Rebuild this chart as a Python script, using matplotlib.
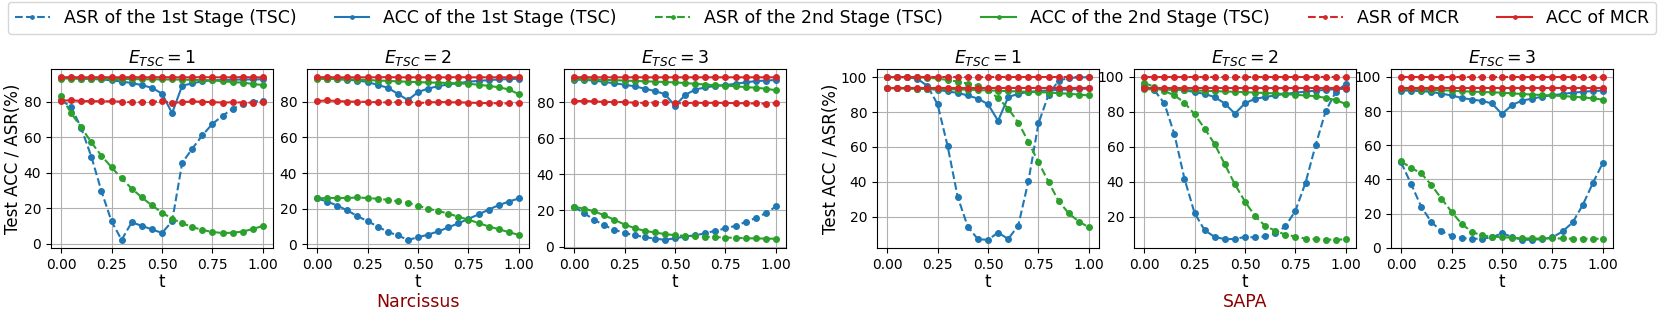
import matplotlib
matplotlib.use("Agg")
import matplotlib.pyplot as plt

t = [0.00, 0.05, 0.10, 0.15, 0.20, 0.25, 0.30, 0.35, 0.40, 0.45, 0.50,
     0.55, 0.60, 0.65, 0.70, 0.75, 0.80, 0.85, 0.90, 0.95, 1.00]

# ---- Narcissus, E_TSC = 1
nar1_asr1 = [80.8, 77, 65, 49, 29.5, 12.5, 2.1, 12, 10, 8, 6, 12.5, 45.5, 53.5, 61, 67.5, 72, 76, 78.5, 80, 80.5]
nar1_acc1 = [93.5, 93.3, 93, 92.8, 92.5, 92, 91.3, 90.5, 89.3, 87.8, 84.5, 73.5, 89, 90.3, 91.5, 92, 92.2, 92.3, 92.5, 92.5, 92.6]
nar1_asr2 = [83, 73.5, 65.5, 57, 49.5, 43, 36.7, 31, 26, 21.5, 17.5, 14, 11.5, 9.3, 7.7, 6.5, 6, 6.1, 6.8, 8.2, 10]
nar1_acc2 = [93, 93, 92.9, 92.9, 92.8, 92.8, 92.7, 92.7, 92.6, 92.6, 92.5, 92.5, 92.4, 92.3, 92.2, 92, 91.5, 91, 90.7, 90, 89.3]
nar1_asr_mcr = [80.5, 80.8, 80.3, 80.3, 80.2, 80.2, 80, 79.6, 79.7, 79.9, 80.3, 79.3, 79.7, 80.1, 79.9, 79.7, 79.5, 79.6, 79.5, 79.4, 79.7]
nar1_acc_mcr = [93.7, 93.8, 93.7, 93.7, 93.8, 93.7, 93.7, 93.8, 93.7, 93.7, 93.8, 93.7, 93.7, 93.7, 93.8, 93.7, 93.7, 93.7, 93.8, 93.7, 93.7]

# ---- Narcissus, E_TSC = 2
nar2_asr1 = [25.8, 24, 21.8, 19, 15.8, 13, 10, 7, 5, 2.5, 3.9, 5.5, 7.2, 9.5, 11.8, 14.3, 16.8, 19.5, 22, 24, 25.8]
nar2_acc1 = [93.5, 93, 92.8, 92.4, 92, 91.2, 89.5, 88, 84.5, 81, 85.5, 87.5, 88.8, 89.8, 90.5, 91.3, 91.8, 92.2, 92.6, 92.8, 93]
nar2_asr2 = [25.8, 26, 26, 26, 26.3, 26, 25.6, 25, 24.2, 23.3, 21.7, 20, 18.7, 17.3, 15.5, 13.8, 12, 10, 8.5, 6.8, 5.3]
nar2_acc2 = [93, 92.9, 92.8, 92.7, 92.5, 92.3, 92, 91.8, 91.5, 91.3, 91.1, 90.9, 90.8, 90.6, 90.4, 90.2, 89.6, 89, 88.2, 87, 84.3]
nar2_asr_mcr = [80.5, 80.8, 80.5, 80.2, 80.1, 80, 79.8, 79.7, 79.9, 80.2, 79.3, 79.7, 79.9, 79.8, 79.7, 79.6, 79.4, 79.3, 79.2, 79.1, 79.5]
nar2_acc_mcr = [93.8, 93.9, 93.8, 93.8, 93.8, 93.8, 93.8, 93.9, 93.8, 93.8, 93.8, 93.8, 93.8, 93.8, 93.9, 93.8, 93.8, 93.8, 93.8, 93.8, 93.8]

# ---- Narcissus, E_TSC = 3
nar3_asr1 = [22, 18.5, 14.8, 11.7, 9.3, 7.5, 6.3, 5.2, 4.4, 3.7, 4.6, 5.5, 6.3, 7.3, 8.8, 10, 11.5, 13.6, 15.8, 18.5, 22.2]
nar3_acc1 = [92.5, 92.4, 92, 91.2, 90.5, 89.7, 88.8, 87.5, 86.2, 84.5, 78, 84, 87, 88.2, 89, 89.5, 90.2, 91, 91.7, 92, 92.3]
nar3_asr2 = [22, 21, 19.5, 17.3, 14.8, 12.2, 10.2, 8.7, 7.8, 6.9, 6.3, 5.9, 5.6, 5.4, 5.2, 5, 4.8, 4.6, 4.5, 4.4, 4.3]
nar3_acc2 = [93, 92.8, 92.6, 92.4, 92.2, 92, 91.8, 91.6, 91.4, 91.2, 91, 90.6, 90.2, 89.8, 89.4, 89.2, 88.8, 88.4, 88, 87.5, 86.6]
nar3_asr_mcr = [80.5, 80.8, 80.4, 80.2, 80.1, 80.1, 79.7, 79.6, 79.8, 80.3, 79.3, 79.5, 79.7, 79.6, 79.7, 79.6, 79.5, 79.4, 79.3, 79.2, 79.5]
nar3_acc_mcr = [93.8, 93.9, 93.8, 93.8, 93.8, 93.8, 93.8, 93.8, 93.8, 93.8, 93.8, 93.8, 93.8, 93.8, 93.8, 93.8, 93.8, 93.8, 93.8, 93.8, 93.8]

# ---- SAPA, E_TSC = 1
sapa1_asr1 = [100, 100, 100, 99, 95, 84.5, 60.5, 31.3, 14.3, 7.2, 6.8, 11, 7.3, 15, 40.3, 73.5, 90, 98, 99.5, 99.8, 100]
sapa1_acc1 = [93.7, 93.7, 93.6, 93.4, 93.2, 92.8, 91.8, 91, 89.5, 87.7, 84.5, 75, 88.5, 90.5, 91.5, 92, 92.4, 92.7, 93, 93.2, 93.5]
sapa1_asr2 = [100, 100, 100, 100, 99.5, 99.3, 98.3, 97.5, 96.3, 95, 92.5, 88, 82, 74, 63, 51.3, 40, 29, 22, 17.3, 14]
sapa1_acc2 = [93.7, 93.6, 93.5, 93.4, 93.2, 93.1, 93, 92.9, 92.8, 92.6, 92.4, 92.2, 92, 91.8, 91.6, 91.4, 91.2, 90.8, 90.5, 90, 89.5]
sapa1_asr_mcr = [99.9, 99.9, 99.9, 99.9, 99.9, 99.9, 99.9, 99.9, 99.9, 99.9, 99.9, 99.9, 99.9, 99.9, 99.9, 99.9, 99.9, 99.9, 99.9, 99.9, 99.9]
sapa1_acc_mcr = [93.7, 93.7, 93.7, 93.7, 93.7, 93.7, 93.7, 93.7, 93.7, 93.7, 93.7, 93.7, 93.7, 93.7, 93.7, 93.7, 93.7, 93.7, 93.7, 93.7, 93.7]

# ---- SAPA, E_TSC = 2
sapa2_asr1 = [95, 92.5, 85, 67.3, 41.8, 22.2, 12.3, 8.5, 7.2, 7.3, 8.5, 8.2, 8.8, 10.5, 14.5, 23.5, 39.5, 61, 80.5, 91.5, 96]
sapa2_acc1 = [93.5, 93.3, 93, 92.8, 92.3, 91.4, 90.3, 88.5, 84.8, 79, 85, 87.5, 88.5, 89.5, 90.3, 91, 91.6, 92.2, 92.6, 93, 93.3]
sapa2_asr2 = [96.5, 94.5, 92, 89.5, 85.3, 78.7, 70.5, 61.5, 50, 38.5, 28.7, 20.3, 14.8, 12, 9.8, 8.7, 7.5, 7.2, 7, 6.8, 7.2]
sapa2_acc2 = [93, 92.9, 92.8, 92.7, 92.5, 92.3, 92.1, 91.9, 91.7, 91.5, 91.3, 91.1, 90.8, 90.6, 90.2, 89.8, 89.4, 89, 88, 86.8, 84.5]
sapa2_asr_mcr = [99.9, 99.9, 99.9, 99.9, 99.9, 99.9, 99.9, 99.9, 99.9, 99.9, 99.9, 99.9, 99.9, 99.9, 99.9, 99.9, 99.9, 99.9, 99.9, 99.9, 99.9]
sapa2_acc_mcr = [93.5, 93.5, 93.5, 93.5, 93.5, 93.5, 93.5, 93.5, 93.5, 93.5, 93.5, 93.5, 93.5, 93.5, 93.5, 93.5, 93.5, 93.5, 93.5, 93.5, 93.5]

# ---- SAPA, E_TSC = 3
sapa3_asr1 = [50, 37.2, 24, 15, 9.7, 7, 5.7, 5.2, 5.3, 6, 8.5, 6.3, 4.6, 4.7, 5, 6.1, 9.5, 14.8, 25, 37.8, 49.8]
sapa3_acc1 = [92, 92, 91.7, 91.3, 90.2, 89.2, 87.7, 86.8, 86, 84.5, 78.3, 83.6, 86.2, 87.3, 88.5, 89.3, 90, 90.8, 91.3, 91.8, 92]
sapa3_asr2 = [50.5, 46.8, 43.5, 36.7, 28.8, 21, 14, 9.3, 7.2, 6.5, 6.2, 5.8, 5.5, 5.4, 5.4, 5.5, 5.4, 5.3, 5.3, 5.2, 5.3]
sapa3_acc2 = [93, 92.8, 92.6, 92.4, 92.2, 92, 91.7, 91.4, 91.2, 91, 90.8, 90.4, 90, 89.7, 89.4, 89.2, 88.8, 88.5, 88, 87.5, 86.7]
sapa3_asr_mcr = [99.9, 99.9, 99.9, 99.9, 99.9, 99.9, 99.9, 99.9, 99.9, 99.9, 99.9, 99.9, 99.9, 99.9, 99.9, 99.9, 99.9, 99.9, 99.9, 99.9, 99.9]
sapa3_acc_mcr = [93.8, 93.8, 93.8, 93.8, 93.8, 93.8, 93.8, 93.8, 93.8, 93.8, 93.8, 93.8, 93.8, 93.8, 93.8, 93.8, 93.8, 93.8, 93.8, 93.8, 93.8]

epochs = [1, 2, 3, 1, 2, 3]
panels = [
    (nar1_asr1, nar1_acc1, nar1_asr2, nar1_acc2, nar1_asr_mcr, nar1_acc_mcr),
    (nar2_asr1, nar2_acc1, nar2_asr2, nar2_acc2, nar2_asr_mcr, nar2_acc_mcr),
    (nar3_asr1, nar3_acc1, nar3_asr2, nar3_acc2, nar3_asr_mcr, nar3_acc_mcr),
    (sapa1_asr1, sapa1_acc1, sapa1_asr2, sapa1_acc2, sapa1_asr_mcr, sapa1_acc_mcr),
    (sapa2_asr1, sapa2_acc1, sapa2_asr2, sapa2_acc2, sapa2_asr_mcr, sapa2_acc_mcr),
    (sapa3_asr1, sapa3_acc1, sapa3_asr2, sapa3_acc2, sapa3_asr_mcr, sapa3_acc_mcr),
]
labels = ["ASR of the 1st Stage (TSC)", "ACC of the 1st Stage (TSC)",
          "ASR of the 2nd Stage (TSC)", "ACC of the 2nd Stage (TSC)",
          "ASR of MCR", "ACC of MCR"]
colors = ["tab:blue", "tab:blue", "tab:green", "tab:green", "tab:red", "tab:red"]
styles = ["--", "-", "--", "-", "--", "-"]

fig = plt.figure(figsize=(16.61, 3.19), dpi=100)

# axes boxes in pixels (left), all same width/height
lefts = [51, 307, 564, 877, 1134, 1391]
W, H = 1661, 319
axes = []
for i, lx in enumerate(lefts):
    ax = fig.add_axes([lx / W, (H - 248) / H, 222 / W, 179 / H])
    for series, lab, c, ls in zip(panels[i], labels, colors, styles):
        ax.plot(t, series, linestyle=ls, color=c, marker="o", markersize=4,
                linewidth=1.5, label=lab)
    ax.set_title(r"$E_{TSC}=%d$" % epochs[i], fontsize=12.5, pad=4)
    ax.set_xlabel("t", fontsize=12, labelpad=1)
    ax.set_xticks([0.0, 0.25, 0.5, 0.75, 1.0])
    ax.tick_params(labelsize=10)
    ax.grid(True)
    if i in (0, 3):
        ax.set_ylabel("Test ACC / ASR(%)", fontsize=12, labelpad=1)
    axes.append(ax)

fig.text(418 / W, 1 - 302 / H, "Narcissus", color="darkred", fontsize=12.5,
         ha="center", va="center")
fig.text(1245 / W, 1 - 302 / H, "SAPA", color="darkred", fontsize=12.5,
         ha="center", va="center")

handles, labs = axes[0].get_legend_handles_labels()
fig.legend(handles, labs, loc="upper left", ncol=6, fontsize=12.5,
           bbox_to_anchor=(8 / W, 1 - 2 / H, 1648 / W, 0.0), mode="expand",
           markerscale=0.6, handlelength=2.0, borderaxespad=0.0)

fig.savefig("out.png", dpi=100)
